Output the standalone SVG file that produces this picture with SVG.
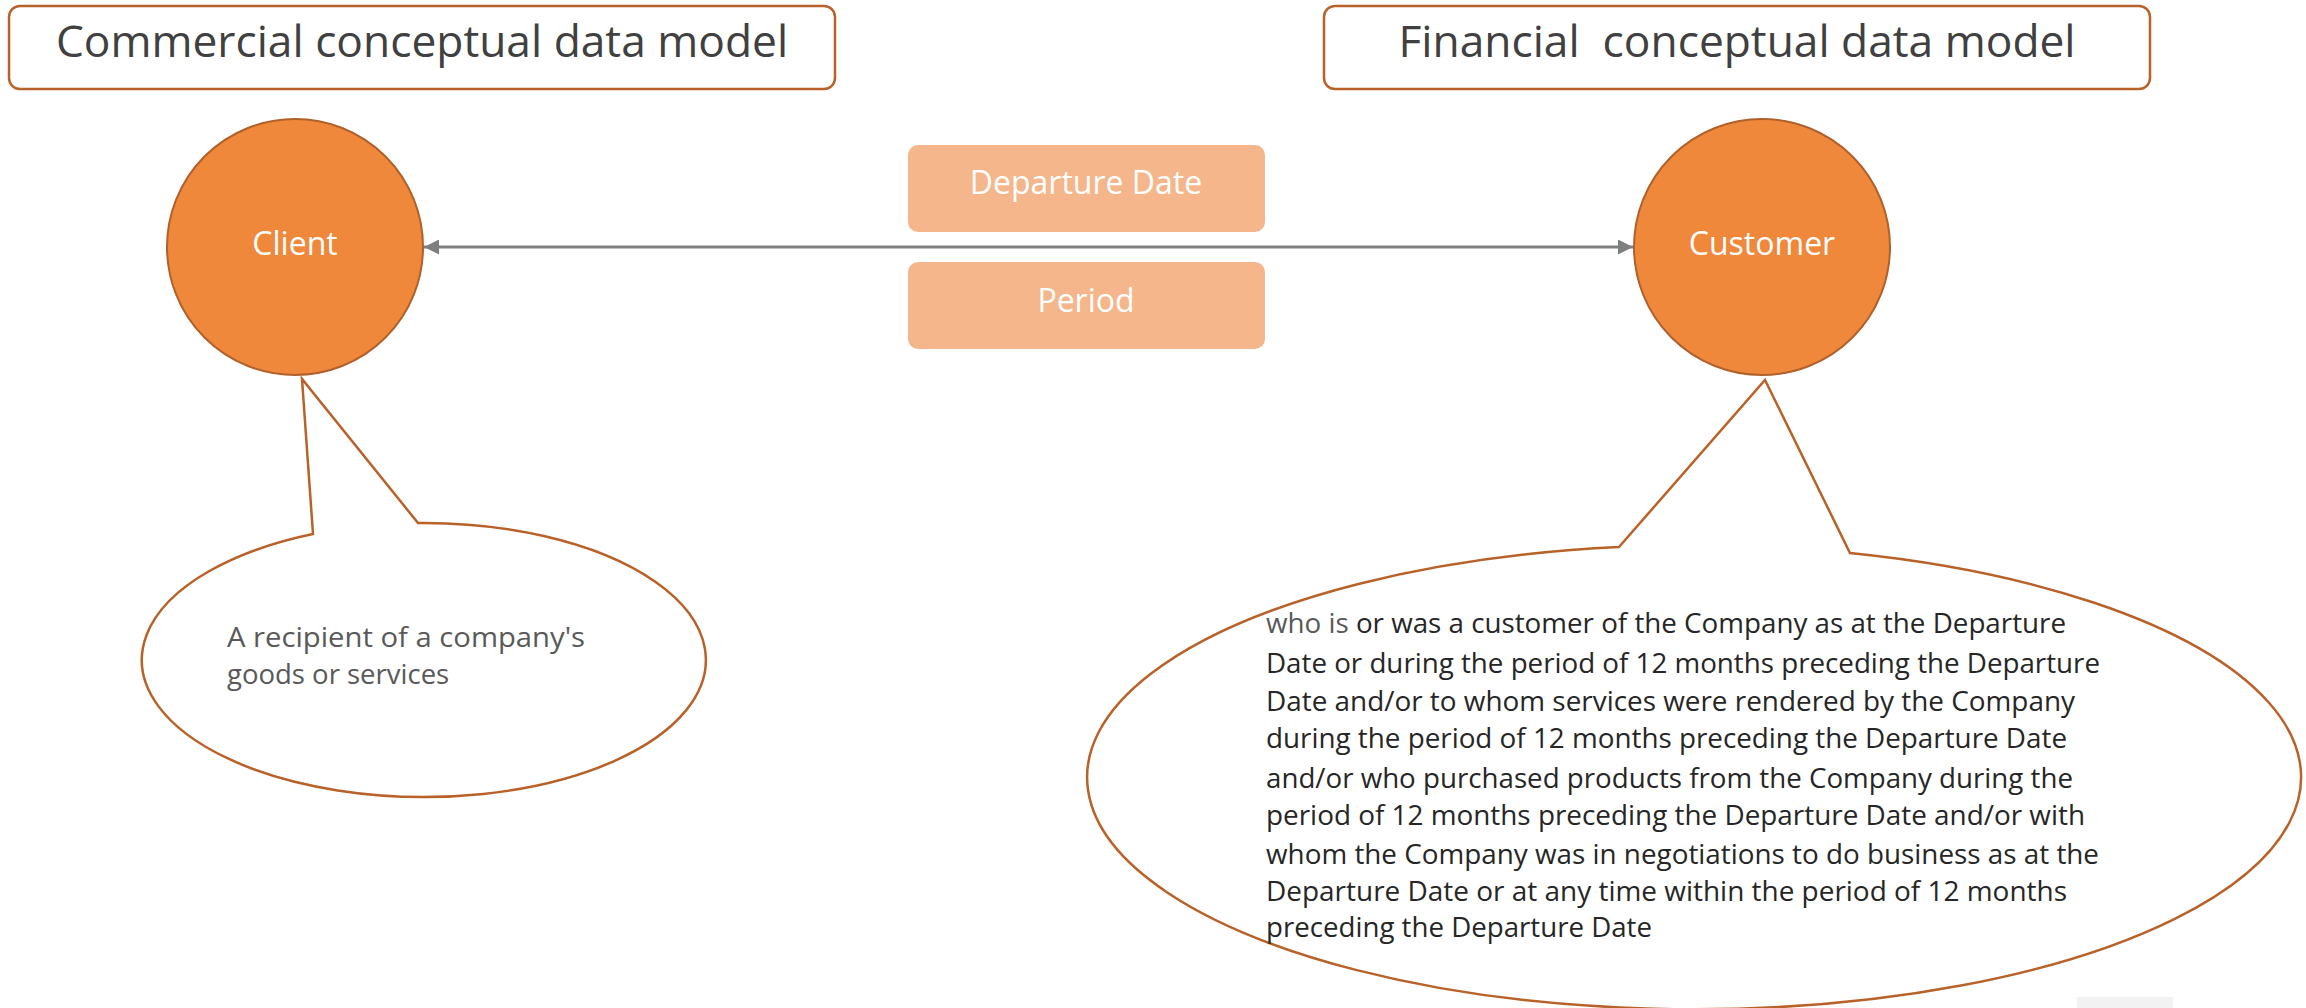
<svg xmlns="http://www.w3.org/2000/svg" width="2306" height="1008" viewBox="0 0 2306 1008">
<defs>
<style>
.title{fill:#fff;stroke:#B8622A;stroke-width:2.5}
.ttxt{font-family:"Open Sans","Noto Sans",sans-serif;font-size:44.3px;fill:#404040;text-anchor:middle}
.ent{fill:#F0883B;stroke:#B0602A;stroke-width:2}
.etxt{font-family:"Open Sans","Noto Sans",sans-serif;font-size:32px;fill:#fff;text-anchor:middle}
.attr{fill:#F4B68A}
.atxt{font-family:"Open Sans","Noto Sans",sans-serif;font-size:32px;fill:#fff;text-anchor:middle}
.bub{fill:#fff;stroke:#B8622A;stroke-width:2.5}
.btxt{font-family:"Open Sans","Noto Sans",sans-serif;font-size:27.5px;fill:#595959}
.ctxt{font-family:"Open Sans","Noto Sans",sans-serif;font-size:26.5px;fill:#262626}
.conn{stroke:#7F7F7F;stroke-width:3;fill:none}
</style>
<marker id="ah" viewBox="0 0 10 10" refX="10" refY="5" markerWidth="5" markerHeight="5" orient="auto-start-reverse">
<path d="M0,0 L10,5 L0,10 z" fill="#7F7F7F"/>
</marker>
</defs>
<rect width="2306" height="1008" fill="#fff"/>
<g id="title-commercial">
<rect class="title" x="9" y="6" width="826" height="83" rx="11"/>
<text class="ttxt" x="422" y="57">Commercial conceptual data model</text>
</g>
<g id="title-financial">
<rect class="title" x="1324" y="6" width="826" height="83" rx="11"/>
<text class="ttxt" x="1737" y="57" xml:space="preserve">Financial  conceptual data model</text>
</g>
<g id="connectors">
<line class="conn" x1="424" y1="247" x2="1633" y2="247" marker-start="url(#ah)" marker-end="url(#ah)"/>
</g>
<g id="attr-departure-date">
<rect class="attr" x="908" y="145" width="357" height="87" rx="10"/>
<text class="atxt" x="1086" y="194">Departure Date</text>
</g>
<g id="attr-period">
<rect class="attr" x="908" y="262" width="357" height="87" rx="10"/>
<text class="atxt" x="1086" y="312">Period</text>
</g>
<g id="callout-client">
<path class="bub" d="M313,534 L302,379 L418,523 A282,137 0 1 1 313,534 Z"/>
<text class="btxt" x="227" y="647" textLength="358" lengthAdjust="spacingAndGlyphs">A recipient of a company's</text>
<text class="btxt" x="227" y="684">goods or services</text>
</g>
<g id="callout-customer">
<path class="bub" d="M1619,547 L1765,380 L1850,553 A607,232 0 1 1 1619,547 Z"/>
<text class="ctxt" x="1266" y="633" textLength="800" lengthAdjust="spacingAndGlyphs"><tspan fill="#595959">who is</tspan> or was a customer of the Company as at the Departure</text>
<text class="ctxt" x="1266" y="673" textLength="834" lengthAdjust="spacingAndGlyphs">Date or during the period of 12 months preceding the Departure</text>
<text class="ctxt" x="1266" y="711" textLength="809" lengthAdjust="spacingAndGlyphs">Date and/or to whom services were rendered by the Company</text>
<text class="ctxt" x="1266" y="748" textLength="801" lengthAdjust="spacingAndGlyphs">during the period of 12 months preceding the Departure Date</text>
<text class="ctxt" x="1266" y="788" textLength="807" lengthAdjust="spacingAndGlyphs">and/or who purchased products from the Company during the</text>
<text class="ctxt" x="1266" y="825" textLength="819" lengthAdjust="spacingAndGlyphs">period of 12 months preceding the Departure Date and/or with</text>
<text class="ctxt" x="1266" y="864" textLength="833" lengthAdjust="spacingAndGlyphs">whom the Company was in negotiations to do business as at the</text>
<text class="ctxt" x="1266" y="901" textLength="801" lengthAdjust="spacingAndGlyphs">Departure Date or at any time within the period of 12 months</text>
<text class="ctxt" x="1266" y="937" textLength="386" lengthAdjust="spacingAndGlyphs">preceding the Departure Date</text>
</g>
<g id="entity-client">
<circle class="ent" cx="295" cy="247" r="128"/>
<text class="etxt" x="295" y="255">Client</text>
</g>
<g id="entity-customer">
<circle class="ent" cx="1762" cy="247" r="128"/>
<text class="etxt" x="1762" y="255">Customer</text>
</g>
<rect x="2077" y="997" width="96" height="11" fill="#F2F2F2"/>
</svg>
